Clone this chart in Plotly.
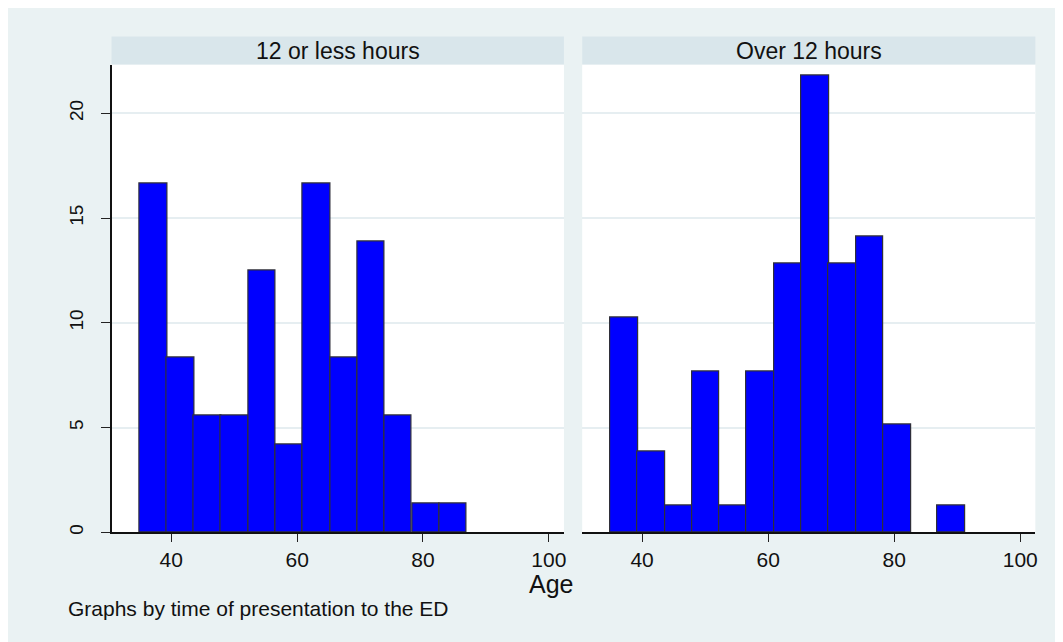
import plotly.graph_objects as go

# ---- data (percent of patients per age bin) ----
bin_left = [35.0, 39.3, 43.6, 47.9, 52.3, 56.6, 60.9, 65.3, 69.6, 73.9, 78.3, 82.6, 86.9]
bin_width = 4.33
pct_12_or_less = [16.67, 8.33, 5.56, 5.56, 12.50, 4.17, 16.67, 8.33, 13.89, 5.56, 1.39, 1.39, 0.0]
pct_over_12 = [10.26, 3.85, 1.28, 7.69, 1.28, 7.69, 12.82, 21.79, 12.82, 14.10, 5.13, 0.0, 1.28]
panel_titles = ["12 or less hours", "Over 12 hours"]
x_ticks = [40, 60, 80, 100]
y_ticks = [0, 5, 10, 15, 20]
x_title = "Age"
note = "Graphs by time of presentation to the ED"

# page body has an 8px margin; figure fills the rest of the 1063x642 window
OFF = 8
W, H = 1063 - OFF, 642 - OFF
FONT = "Liberation Sans, Arial, Helvetica, sans-serif"
BG = "#EAF2F3"
STRIP = "#D9E6EB"
GRID = "#E6EEF1"
BAR = "#0000FF"
EDGE = "#2F2F3A"

def fx(px):
    return (px - OFF) / W

def fy(py):
    return 1 - (py - OFF) / H

left_dom = [fx(111.7), fx(565.0)]
right_dom = [fx(583.3), fx(1037.3)]
y_dom = [fy(534.0), fy(64.7)]

fig = go.Figure()
for i, vals in enumerate([pct_12_or_less, pct_over_12]):
    xs = [b for b, v in zip(bin_left, vals) if v > 0]
    ys = [v for v in vals if v > 0]
    fig.add_trace(go.Bar(
        x=xs, y=ys, width=bin_width, offset=0,
        marker=dict(color=BAR, line=dict(color=EDGE, width=1.2)),
        xaxis="x" if i == 0 else "x2", yaxis="y" if i == 0 else "y2",
        showlegend=False, hoverinfo="x+y",
    ))

xcommon = dict(range=[30.5, 102.4], tickvals=x_ticks, ticks="outside", ticklen=8,
               tickwidth=1.2, tickcolor="#222", showline=True, linecolor="#111",
               linewidth=1.5, showgrid=False, zeroline=False,
               tickfont=dict(family=FONT, size=21, color="#111"))
ycommon = dict(range=[0, 22.33], tickvals=y_ticks, showgrid=True, gridcolor=GRID,
               gridwidth=1.5, zeroline=False)

fig.update_layout(
    width=W, height=H,
    margin=dict(l=0, r=0, t=0, b=0),
    paper_bgcolor=BG, plot_bgcolor="white",
    bargap=0,
    xaxis=dict(domain=left_dom, anchor="y", **xcommon),
    xaxis2=dict(domain=right_dom, anchor="y2", **xcommon),
    yaxis=dict(domain=y_dom, anchor="x", ticks="outside", ticklen=9, tickwidth=1.2,
               tickcolor="#222", showline=True, linecolor="#111", linewidth=1.5,
               tickangle=-90, ticklabelstandoff=10,
               tickfont=dict(family=FONT, size=19, color="#111"), **ycommon),
    yaxis2=dict(domain=y_dom, anchor="x2", showticklabels=False, ticks="",
                showline=False, **ycommon),
)

shapes = []
annotations = []
for dom, title in zip([left_dom, right_dom], panel_titles):
    shapes.append(dict(type="rect", xref="paper", yref="paper", x0=dom[0], x1=dom[1],
                       y0=fy(64.7), y1=fy(36.7), fillcolor=STRIP, line=dict(width=0),
                       layer="below"))
    annotations.append(dict(xref="paper", yref="paper", x=(dom[0] + dom[1]) / 2,
                            y=fy(50.7), text=title, showarrow=False,
                            xanchor="center", yanchor="middle",
                            font=dict(family=FONT, size=23, color="#111")))

annotations.append(dict(xref="paper", yref="paper", x=fx(552), y=fy(586), text=x_title,
                        showarrow=False, xanchor="center", yanchor="middle",
                        font=dict(family=FONT, size=25, color="#111")))
annotations.append(dict(xref="paper", yref="paper", x=fx(66), y=fy(610), text=note,
                        showarrow=False, xanchor="left", yanchor="middle",
                        font=dict(family=FONT, size=21, color="#111")))

fig.update_layout(shapes=shapes, annotations=annotations)
fig.write_html("out.html")
